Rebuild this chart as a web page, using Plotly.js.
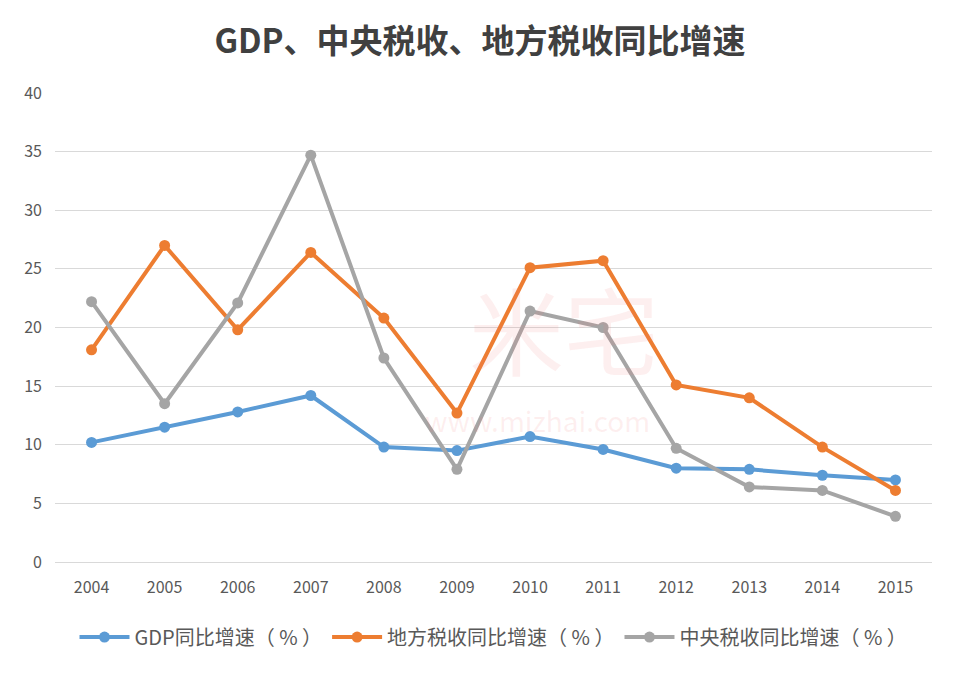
<!DOCTYPE html>
<html>
<head>
<meta charset="utf-8">
<script src="https://cdn.plot.ly/plotly-3.0.1.min.js"></script>
<style>html,body{margin:0;padding:0;background:#fff;}#chart{width:960px;height:676px;}</style>
</head>
<body>
<div id="chart"></div>
<script>
var years = ['2004','2005','2006','2007','2008','2009','2010','2011','2012','2013','2014','2015'];
var gdpGrowth = [10.2, 11.5, 12.8, 14.2, 9.8, 9.5, 10.7, 9.6, 8.0, 7.9, 7.4, 7.0];
var localTaxGrowth = [18.1, 27.0, 19.8, 26.4, 20.8, 12.7, 25.1, 25.7, 15.1, 14.0, 9.8, 6.1];
var centralTaxGrowth = [22.2, 13.5, 22.1, 34.7, 17.4, 7.9, 21.4, 20.0, 9.7, 6.4, 6.1, 3.9];
var seriesNames = ['GDP同比增速（ % ）', '地方税收同比增速（ % ）', '中央税收同比增速（ % ）'];
var colors = ['#5B9BD5', '#ED7D31', '#A5A5A5'];

var font = '"Noto Sans CJK SC", "Noto Sans", sans-serif';
function mk(y, i) {
  return {
    x: years, y: y, name: seriesNames[i], type: 'scatter', mode: 'lines+markers',
    line: {color: colors[i], width: 4},
    marker: {color: colors[i], size: 11}
  };
}
var data = [mk(gdpGrowth, 0), mk(localTaxGrowth, 1), mk(centralTaxGrowth, 2)];

var layout = {
  width: 960, height: 676,
  margin: {l: 55, r: 28, t: 93, b: 114},
  paper_bgcolor: '#ffffff', plot_bgcolor: '#ffffff',
  font: {family: font, color: '#595959', size: 16},
  title: {text: '<b>GDP、中央税收、地方税收同比增速</b>', x: 0.5, xanchor: 'center', y: 0.938, yanchor: 'middle',
          font: {family: font, size: 33, color: '#404040'}},
  xaxis: {type: 'category', range: [-0.5, 11.5], showgrid: false, zeroline: false, showline: false,
          ticks: '', ticklabelstandoff: 14, tickfont: {size: 16, color: '#595959'}, fixedrange: true},
  yaxis: {range: [0, 40], dtick: 5, tick0: 0, showgrid: true, gridcolor: '#D9D9D9', gridwidth: 1,
          zeroline: true, zerolinecolor: '#D9D9D9', zerolinewidth: 1, showline: false, ticks: '',
          ticklabelstandoff: 12, tickfont: {size: 16, color: '#595959'}, fixedrange: true},
  legend: {orientation: 'h', x: 0.5, xanchor: 'center', y: -0.16, yanchor: 'middle',
           font: {size: 20, color: '#595959'}, itemwidth: 50, tracegroupgap: 0},
  showlegend: true,
  annotations: [
    {text: '米宅', xref: 'paper', yref: 'paper', x: 0.58, y: 0.5, showarrow: false,
     font: {size: 95, color: 'rgba(240,120,120,0.12)', family: font}},
    {text: 'www.mizhai.com', xref: 'paper', yref: 'paper', x: 0.55, y: 0.255, showarrow: false,
     font: {size: 28, color: 'rgba(240,120,120,0.12)', family: font}}
  ]
};
Plotly.newPlot('chart', data, layout, {displayModeBar: false, staticPlot: true});
</script>
</body>
</html>
